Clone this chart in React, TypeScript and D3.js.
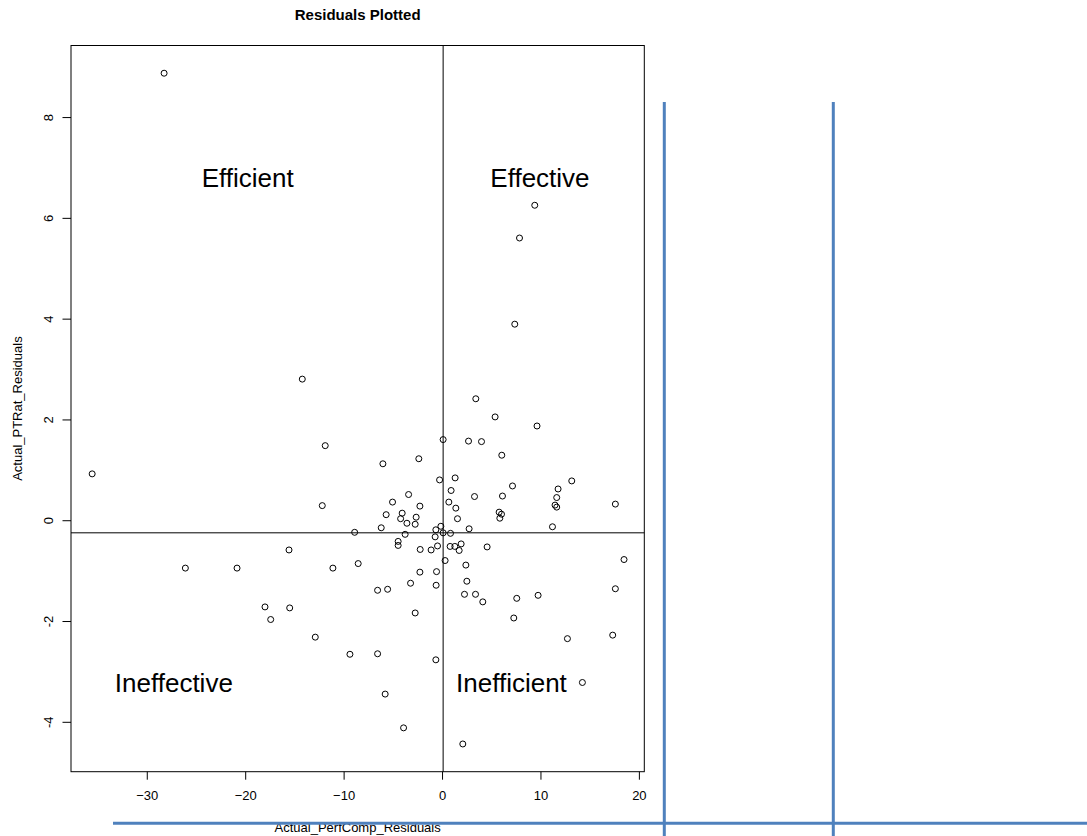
import React from "react";
import * as d3 from "d3";

// Residuals
const perfCompResiduals: number[] = [
  3.38, 5.34, 9.60, 0.06, 2.64, 3.96, 6.02, -6.06, -2.41, -0.30,
  1.28, 0.87, -3.45, 7.11, 11.74, 3.25, 6.09, 11.60, -5.08, 0.64,
  -2.30, 1.35, 11.43, 11.60, -5.73, -4.10, -4.26, -2.68, -3.62, -2.78,
  1.52, 5.75, 5.99, 5.82, -6.23, 11.17, -8.93, -3.80, -0.68, -0.17,
  0.06, 0.81, 2.70, -0.75, -4.51, -4.51, -2.27, -1.16, -0.51, 0.77,
  1.25, 1.69, 1.89, 4.53, 0.26, -11.14, -8.57, 2.37, -2.30, -0.61,
  2.47, -3.25, -6.60, -5.58, -0.65, 2.23, 3.35, 4.09, 7.54, 9.71,
  -2.78, 7.24, -11.92, -35.60, -12.22, -15.60, -26.13, -20.88, -18.04, -15.53,
  -17.46, -12.93, 13.13, 17.56, 18.44, 17.56, 12.69, 17.29, 14.21, -9.41,
  -6.60, -0.68, -5.83, -3.96, 2.06, 9.37, 7.82, 7.34, -14.25, -28.29,
];
const ptRatResiduals: number[] = [
  2.42, 2.06, 1.88, 1.61, 1.58, 1.57, 1.30, 1.13, 1.23, 0.81,
  0.85, 0.60, 0.52, 0.69, 0.63, 0.48, 0.49, 0.46, 0.37, 0.37,
  0.29, 0.25, 0.31, 0.27, 0.12, 0.15, 0.04, 0.07, -0.05, -0.07,
  0.04, 0.17, 0.13, 0.05, -0.14, -0.12, -0.23, -0.27, -0.18, -0.11,
  -0.24, -0.25, -0.16, -0.32, -0.41, -0.49, -0.57, -0.58, -0.50, -0.51,
  -0.51, -0.59, -0.46, -0.52, -0.79, -0.94, -0.85, -0.88, -1.02, -1.01,
  -1.20, -1.24, -1.38, -1.36, -1.28, -1.46, -1.46, -1.61, -1.54, -1.48,
  -1.83, -1.93, 1.49, 0.93, 0.30, -0.58, -0.94, -0.94, -1.71, -1.73,
  -1.96, -2.31, 0.79, 0.33, -0.77, -1.35, -2.34, -2.27, -3.21, -2.65,
  -2.64, -2.76, -3.44, -4.11, -4.43, 6.26, 5.61, 3.90, 2.81, 8.88,
];

const xTicks: number[] = [-30, -20, -10, 0, 10, 20];
const yTicks: number[] = [-4, -2, 0, 2, 4, 6, 8];

const quadrantNames: string[] = ["Efficient", "Effective", "Ineffective", "Inefficient"];
const quadrantX: number[] = [-19.8, 9.9, -27.3, 7.0];
const quadrantY: number[] = [6.8, 6.8, -3.21, -3.21];

const refX = 0.06;
const refY = -0.24;

const xDomain: [number, number] = [-37.75, 20.5];
const yDomain: [number, number] = [-4.98, 9.43];

const FONT = "'Liberation Sans', Arial, Helvetica, sans-serif";
const BLUE = "#4F81BD";

export default function App() {
  const W = 1087;
  const H = 836;
  const left = 71, right = 644.3, top = 45.5, bottom = 771.7;

  const x = d3.scaleLinear().domain(xDomain).range([left, right]);
  const y = d3.scaleLinear().domain(yDomain).range([bottom, top]);

  const fmtX = (v: number) => (v < 0 ? "\u2212" + Math.abs(v) : String(v));
  const fmtY = (v: number) => String(v);

  const cx = (left + right) / 2;
  const cy = (top + bottom) / 2;

  return (
    <div style={{ position: "absolute", left: 0, top: 0 }}>
      <svg width={W} height={H} style={{ display: "block", background: "#fff" }} fontFamily={FONT}>
        <rect x={0} y={0} width={W} height={H} fill="#fff" />
        {/* title */}
        <text x={cx} y={19.5} textAnchor="middle" fontSize={15} fontWeight="bold" fill="#000">
          Residuals Plotted
        </text>

        {/* plot box */}
        <rect x={left} y={top} width={right - left} height={bottom - top} fill="none" stroke="#000" strokeWidth={1} />

        {/* reference lines */}
        <line x1={x(refX)} x2={x(refX)} y1={top} y2={bottom} stroke="#000" strokeWidth={1} />
        <line x1={left} x2={right} y1={y(refY)} y2={y(refY)} stroke="#000" strokeWidth={1} />

        {/* x axis */}
        {xTicks.map((t) => (
          <g key={"xt" + t}>
            <line x1={x(t)} x2={x(t)} y1={bottom} y2={bottom + 8} stroke="#000" strokeWidth={1} />
            <text x={x(t)} y={800} textAnchor="middle" fontSize={13} fill="#000">
              {fmtX(t)}
            </text>
          </g>
        ))}
        {/* y axis */}
        {yTicks.map((t) => (
          <g key={"yt" + t}>
            <line x1={left - 8.5} x2={left} y1={y(t)} y2={y(t)} stroke="#000" strokeWidth={1} />
            <text
              transform={`translate(52.5,${y(t)}) rotate(-90)`}
              textAnchor="middle"
              fontSize={13}
              fill="#000"
            >
              {fmtY(t)}
            </text>
          </g>
        ))}

        {/* axis titles */}
        <text x={cx} y={832} textAnchor="middle" fontSize={13} fill="#000">
          Actual_PerfComp_Residuals
        </text>
        <text transform={`translate(21.5,${cy}) rotate(-90)`} textAnchor="middle" fontSize={13} fill="#000">
          Actual_PTRat_Residuals
        </text>

        {/* points */}
        {perfCompResiduals.map((v, i) => (
          <circle
            key={"p" + i}
            cx={x(v)}
            cy={y(ptRatResiduals[i])}
            r={3}
            fill="none"
            stroke="#000"
            strokeWidth={1}
          />
        ))}

        {/* quadrant labels */}
        {quadrantNames.map((n, i) => (
          <text
            key={n}
            x={x(quadrantX[i])}
            y={y(quadrantY[i]) + 9.3}
            textAnchor="middle"
            fontSize={26}
            fill="#000"
          >
            {n}
          </text>
        ))}

        {/* overlaid blue lines */}
        <line x1={664.3} x2={664.3} y1={102} y2={H} stroke={BLUE} strokeWidth={3} />
        <line x1={833.3} x2={833.3} y1={102} y2={H} stroke={BLUE} strokeWidth={3} />
        <line x1={113} x2={W} y1={823.3} y2={823.3} stroke={BLUE} strokeWidth={3} />
      </svg>
    </div>
  );
}
